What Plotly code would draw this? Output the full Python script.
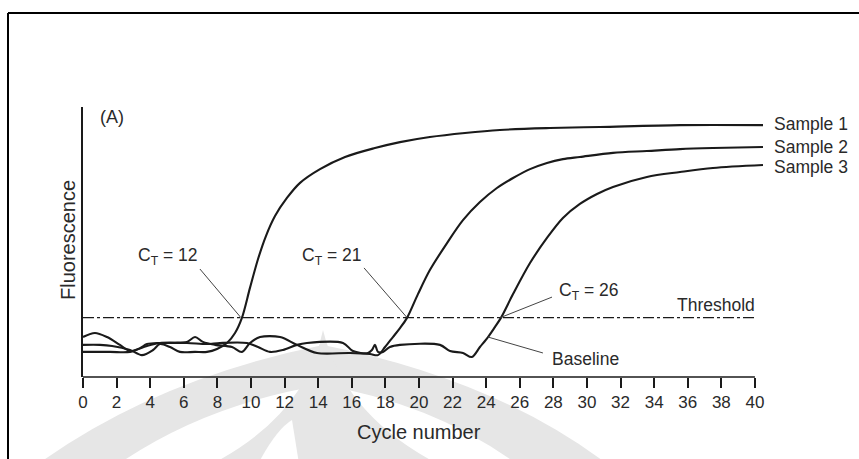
import plotly.graph_objects as go

# ---------------- data ----------------
cycle_ticks = list(range(0, 41, 2))
threshold_level = 22.0

s1_cycle = [0, 1.01, 1.73, 2.80, 3.51, 4.17, 4.58, 5.18, 5.77, 6.67, 7.38, 7.98, 8.57, 9.05,
            9.46, 9.94, 10.42, 10.89, 11.43, 12.14, 12.92, 14.11, 15.60, 17.38, 18.87,
            20.65, 22.74, 24.82, 27.80, 30.77, 35.54, 40.48]
s1_fluor = [11.9, 11.9, 11.5, 10.0, 8.1, 10.0, 12.2, 11.1, 9.3, 9.3, 9.3, 10.4, 12.6, 16.3,
            21.9, 33.0, 43.7, 52.2, 59.6, 66.3, 71.9, 77.0, 81.5, 84.8, 87.0,
            88.9, 90.4, 91.5, 92.2, 92.6, 93.3, 93.3]

s2_cycle = [0, 0.71, 1.43, 2.20, 2.80, 3.39, 3.81, 4.58, 5.48, 6.19, 6.67, 7.14, 7.86, 8.87,
            9.46, 9.94, 10.54, 11.73, 12.74, 13.93, 15.89, 17.08, 17.56, 17.98, 18.45, 18.87,
            19.29, 19.94, 20.65, 21.67, 22.62, 23.63, 24.64, 25.60, 26.61, 27.62, 28.57, 29.58,
            31.55, 33.57, 35.54, 37.50, 40.48]
s2_fluor = [14.8, 16.3, 14.8, 11.9, 9.6, 10.7, 12.2, 12.6, 12.6, 13.0, 14.8, 13.0, 11.9, 11.1,
            9.3, 12.6, 14.8, 14.8, 11.9, 8.9, 8.9, 8.5, 8.1, 11.1, 14.8, 18.1,
            21.9, 30.7, 39.6, 49.6, 58.1, 64.8, 70.0, 73.7, 77.0, 79.3, 80.7, 81.5,
            83.0, 83.7, 84.4, 84.8, 85.2]

s3_cycle = [0, 1.61, 2.80, 3.81, 4.58, 6.19, 7.38, 8.15, 9.76, 10.42, 11.13, 11.90, 12.74,
            13.33, 15.48, 16.07, 16.96, 17.20, 17.38, 17.56, 17.86, 18.27, 18.87, 21.25,
            21.85, 22.62, 23.15, 23.63, 24.11, 24.52, 24.88, 25.60, 26.61, 27.62, 28.57, 29.58,
            30.60, 31.55, 33.57, 35.54, 37.50, 40.48]
s3_fluor = [9.3, 9.3, 9.3, 11.5, 12.6, 12.6, 12.2, 12.6, 12.6, 11.1, 9.3, 10.0, 11.9,
            12.6, 12.6, 9.6, 8.9, 10.0, 11.9, 9.3, 9.3, 11.1, 11.9, 11.9,
            9.6, 8.9, 7.4, 11.1, 14.8, 18.5, 21.9, 30.7, 42.2, 51.5, 58.9, 64.1,
            67.8, 70.4, 74.1, 75.9, 77.4, 78.5]

sample_names = ["Sample 1", "Sample 2", "Sample 3"]
ct_texts = ["C<sub>T</sub> = 12", "C<sub>T</sub> = 21", "C<sub>T</sub> = 26"]
ct_cross_cycle = [9.40, 19.29, 24.85]

samples = [(s1_cycle, s1_fluor), (s2_cycle, s2_fluor), (s3_cycle, s3_fluor)]

# ---------------- layout geometry / style ----------------
W, H = 859, 459
L, R, T, B = 83, 94, 107, 82
XMAX = 40.6
PW, PH = W - L - R, H - T - B
FONT = "Liberation Sans, Arial, Helvetica, sans-serif"
INK = "#1a1a1a"
TXT = "#2a2a2a"


def px(p):
    return (p - L) / PW


def py(p):
    return (H - B - p) / PH


fig = go.Figure()

for (cx, fy) in samples:
    fig.add_trace(go.Scatter(x=cx, y=fy, mode="lines",
                             line=dict(color=INK, width=2.1, shape="spline", smoothing=0.9),
                             hoverinfo="skip", showlegend=False))

# threshold line
fig.add_trace(go.Scatter(x=[cycle_ticks[0], cycle_ticks[-1] + 0.1],
                         y=[threshold_level, threshold_level], mode="lines",
                         line=dict(color=INK, width=1.3, dash="11px,3px,3px,3px"),
                         hoverinfo="skip", showlegend=False))

shapes = []
# watermark (faint logo)
wm = "#e6e6e6"
shapes.append(dict(type="path", xref="paper", yref="paper", layer="below", line=dict(width=0),
                   fillcolor=wm,
                   path=f"M {px(30)},{py(470)} Q {px(150)},{py(380)} {px(323)},{py(345)} "
                        f"Q {px(500)},{py(380)} {px(615)},{py(470)} Z"))
shapes.append(dict(type="path", xref="paper", yref="paper", layer="below", line=dict(width=0),
                   fillcolor="white",
                   path=f"M {px(110)},{py(470)} Q {px(200)},{py(405)} {px(323)},{py(385)} "
                        f"Q {px(440)},{py(405)} {px(525)},{py(470)} Z"))
shapes.append(dict(type="path", xref="paper", yref="paper", layer="below", line=dict(width=0),
                   fillcolor=wm,
                   path=f"M {px(200)},{py(470)} Q {px(305)},{py(420)} {px(323)},{py(330)} "
                        f"Q {px(345)},{py(420)} {px(450)},{py(470)} Z"))
shapes.append(dict(type="path", xref="paper", yref="paper", layer="below", line=dict(width=0),
                   fillcolor="white",
                   path=f"M {px(255)},{py(470)} Q {px(275)},{py(430)} {px(292)},{py(420)} "
                        f"L {px(300)},{py(470)} Z"))

# frame of the figure
shapes.append(dict(type="line", xref="paper", yref="paper", x0=px(8), x1=px(870), y0=py(13), y1=py(13),
                   line=dict(color="black", width=2)))
shapes.append(dict(type="line", xref="paper", yref="paper", x0=px(8), x1=px(8), y0=py(13), y1=py(470),
                   line=dict(color="black", width=2)))
# x axis line (0 .. 40)
shapes.append(dict(type="line", xref="x", yref="paper", x0=cycle_ticks[0], x1=cycle_ticks[-1],
                   y0=0, y1=0, line=dict(color=INK, width=1.6)))

# leader lines
lead_start = [(6.96, 40.0), (16.73, 40.4), (27.92, 29.6)]
for (sx, sy), cxv in zip(lead_start, ct_cross_cycle):
    shapes.append(dict(type="line", xref="x", yref="y", x0=sx, y0=sy, x1=cxv, y1=threshold_level,
                       line=dict(color="#444", width=1)))
# baseline leader (points to the Sample 3 curve just below threshold)
shapes.append(dict(type="line", xref="x", yref="y", x0=27.38, y0=8.9, x1=s3_cycle[28], y1=s3_fluor[28],
                   line=dict(color="#444", width=1)))

annotations = []
tf = dict(family=FONT, size=17.5, color=TXT)
ct_pos = [(6.96, 44.6, "right"), (16.73, 44.6, "right"), (28.2, 31.8, "left")]
for (ax_, ay_, anc), t in zip(ct_pos, ct_texts):
    annotations.append(dict(x=ax_, y=ay_, xref="x", yref="y", text=t, showarrow=False,
                            xanchor=anc, yanchor="middle", font=tf))
annotations.append(dict(x=40.1, y=26.7, xref="x", yref="y", text="Threshold", showarrow=False,
                        xanchor="right", yanchor="middle", font=tf))
annotations.append(dict(x=27.8, y=6.7, xref="x", yref="y", text="Baseline", showarrow=False,
                        xanchor="left", yanchor="middle", font=tf))
label_yshift = [1, 0, -2]
for (cx, fy), name, ys in zip(samples, sample_names, label_yshift):
    annotations.append(dict(x=cx[-1], y=fy[-1], xref="x", yref="y", text=name, showarrow=False,
                            xanchor="left", yanchor="middle", xshift=9, yshift=ys, font=tf))
annotations.append(dict(x=px(112), y=py(117), xref="paper", yref="paper", text="(A)", showarrow=False,
                        xanchor="center", yanchor="middle", font=dict(family=FONT, size=18, color=TXT)))
annotations.append(dict(x=px(68), y=py(240), xref="paper", yref="paper", text="Fluorescence",
                        showarrow=False, textangle=-90, xanchor="center", yanchor="middle",
                        font=dict(family=FONT, size=20, color=TXT)))
annotations.append(dict(x=px(419), y=py(432), xref="paper", yref="paper", text="Cycle number",
                        showarrow=False, xanchor="center", yanchor="middle",
                        font=dict(family=FONT, size=20, color=TXT)))

fig.update_layout(
    width=W, height=H, margin=dict(l=L, r=R, t=T, b=B),
    paper_bgcolor="white", plot_bgcolor="white",
    shapes=shapes, annotations=annotations, showlegend=False,
    xaxis=dict(range=[0, XMAX], tickvals=cycle_ticks, ticktext=[str(v) for v in cycle_ticks],
               ticks="outside", ticklen=10, tickwidth=1.5, tickcolor=INK,
               showline=False, showgrid=False, zeroline=False,
               tickfont=dict(family=FONT, size=17, color=TXT)),
    yaxis=dict(range=[0, 100], showticklabels=False, ticks="", showline=True,
               linecolor=INK, linewidth=1.6, showgrid=False, zeroline=False),
)

fig.write_html("out.html")
